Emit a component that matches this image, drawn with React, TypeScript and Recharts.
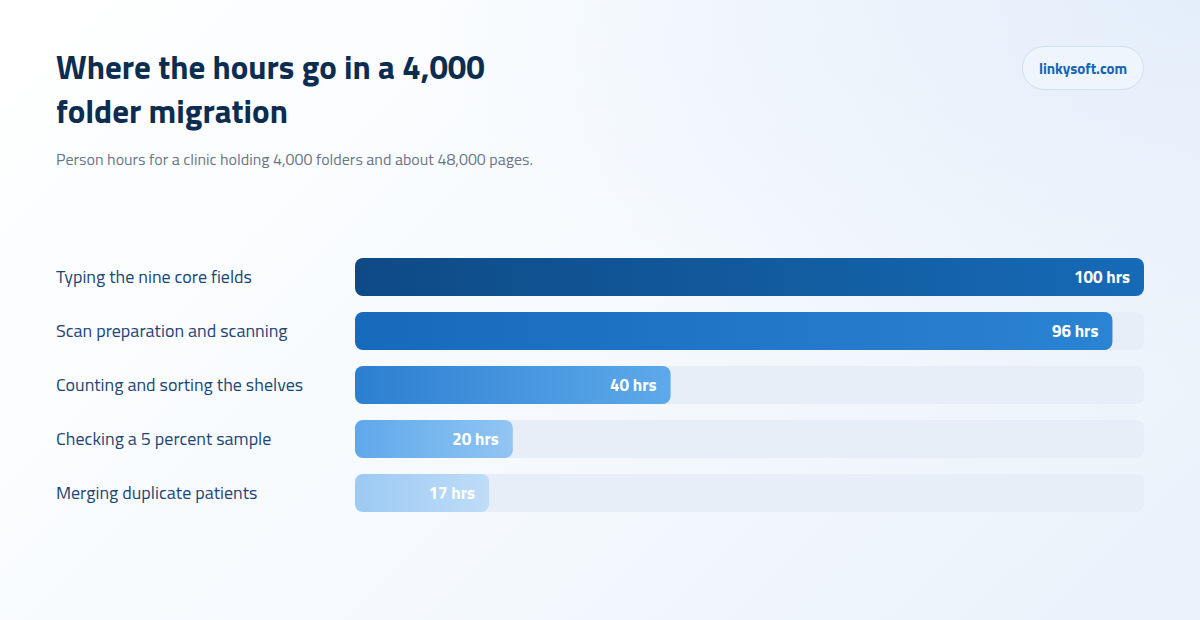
import React from 'react';
import { Bar, BarChart, Cell, LabelList, XAxis, YAxis } from 'recharts';

const tasks = [
  'Typing the nine core fields',
  'Scan preparation and scanning',
  'Counting and sorting the shelves',
  'Checking a 5 percent sample',
  'Merging duplicate patients',
];
const hours = [100, 96, 40, 20, 17];
const gradientStops = [
  ['#0e4a85', '#166ab6'],
  ['#1769bb', '#2b83d3'],
  ['#2c7fd0', '#5ea9eb'],
  ['#5ea8ea', '#92c5f3'],
  ['#9ccaf3', '#bedcf8'],
];

const data = tasks.map((task, i) => ({ task, hours: hours[i] }));

const FONT = "'Titillium Web', Roboto, 'Noto Sans', sans-serif";

const TaskTick = (props: any) => {
  const { y, payload } = props;
  return (
    <text x={56} y={y} dy={6} textAnchor="start" fill="#1d4676" fontSize={18} fontWeight={500} fontFamily={FONT}>
      {payload.value}
    </text>
  );
};

export default function App() {
  return (
    <div
      style={{
        position: 'absolute',
        left: 0,
        top: 0,
        width: 1200,
        height: 620,
        overflow: 'hidden',
        fontFamily: FONT,
        background:
          'radial-gradient(ellipse at 100% 0%, rgba(226,237,250,0.9) 0%, rgba(226,237,250,0) 45%), linear-gradient(135deg, #ffffff 0%, #f5f9fd 55%, #e9f1fb 100%)',
      }}
    >
      <div style={{ position: 'absolute', left: 56, top: 45, fontSize: 33, fontWeight: 700, color: '#0c2d4f' }}>
        <div style={{ lineHeight: '44px' }}>Where the hours go in a 4,000</div>
        <div style={{ lineHeight: '44px' }}>folder migration</div>
      </div>
      <div style={{ position: 'absolute', left: 56, top: 147, fontSize: 16, color: '#6b7684' }}>
        Person hours for a clinic holding 4,000 folders and about 48,000 pages.
      </div>
      <div
        style={{
          position: 'absolute',
          left: 1022,
          top: 46,
          width: 120,
          height: 42,
          borderRadius: 22,
          border: '1px solid #cfe0f3',
          background: '#eef5fd',
          color: '#1565b5',
          fontWeight: 700,
          fontSize: 15,
          display: 'flex',
          alignItems: 'center',
          justifyContent: 'center',
        }}
      >
        linkysoft.com
      </div>
      <div style={{ position: 'absolute', left: 0, top: 0 }}>
        <BarChart
          width={1200}
          height={620}
          data={data}
          layout="vertical"
          margin={{ top: 250, right: 56, bottom: 100, left: 56 }}
          barCategoryGap={16}
        >
          <defs>
            {gradientStops.map(([from, to], i) => (
              <linearGradient key={i} id={`bar${i}`} x1="0" y1="0" x2="1" y2="0">
                <stop offset="0%" stopColor={from} />
                <stop offset="100%" stopColor={to} />
              </linearGradient>
            ))}
          </defs>
          <XAxis type="number" domain={[0, 100]} hide />
          <YAxis
            type="category"
            dataKey="task"
            width={299}
            axisLine={false}
            tickLine={false}
            tick={<TaskTick />}
          />
          <Bar
            dataKey="hours"
            barSize={38}
            radius={8}
            background={{ fill: '#e8eef8', radius: 8 } as any}
            isAnimationActive={false}
          >
            {data.map((_, i) => (
              <Cell key={i} fill={`url(#bar${i})`} />
            ))}
            <LabelList
              dataKey="hours"
              position="insideRight"
              offset={14}
              fill="#ffffff"
              fontSize={17}
              fontWeight={700}
              fontFamily={FONT}
              formatter={(v: any) => `${v} hrs`}
            />
          </Bar>
        </BarChart>
      </div>
    </div>
  );
}
